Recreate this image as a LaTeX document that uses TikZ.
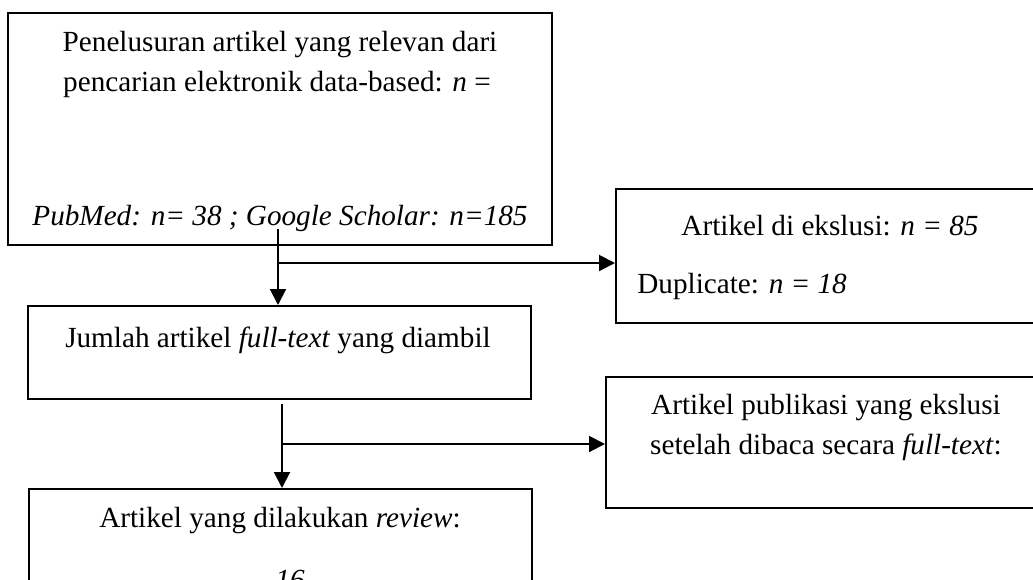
\documentclass[tikz,border=0pt]{standalone}
\usepackage{fontspec}
\setmainfont{Liberation Serif}
\usetikzlibrary{arrows.meta,fit}

\tikzset{
  box/.style={draw, line width=1pt, inner sep=0pt},
  txt/.style={anchor=base, inner sep=0pt, font=\fontsize{14.6}{20.5}\selectfont},
  flow/.style={line width=1pt, -{Triangle[length=8pt,width=8pt]}}
}

\begin{document}
\begin{tikzpicture}[x=0.5pt,y=-0.5pt]
\useasboundingbox (0,0) rectangle (1033,579);

\node[box, fit={(8,13) (552,245)}] (search) {};
\node[box, fit={(616,189) (1044,323)}] (excl) {};
\node[box, fit={(28,306) (531,399)}] (fulltext) {};
\node[box, fit={(606,377) (1044,508)}] (exclft) {};
\node[box, fit={(29,489) (532,620)}] (review) {};

\node[txt] at (280,51) {Penelusuran artikel yang relevan dari};
\node[txt] at (277,91) {pencarian elektronik data-based: \textit{n} =};
\node[txt] at (280,225) {\textit{PubMed: n= 38 ; Google Scholar: n=185}};
\node[txt] at (830,235) {Artikel di ekslusi: \textit{n = 85}};
\node[txt, anchor=base west] at (637,293) {Duplicate: \textit{n = 18}};
\node[txt] at (278,347) {Jumlah artikel \textit{full-text} yang diambil};
\node[txt] at (826,414) {Artikel publikasi yang ekslusi};
\node[txt] at (826,454) {setelah dibaca secara \textit{full-text}:};
\node[txt] at (280,527) {Artikel yang dilakukan \textit{review}:};
\node[txt] at (290,589) {\textit{16}};

\coordinate (from1) at (278,229);
\coordinate (split1) at (278,263);
\draw[flow] (from1) -- (from1 |- fulltext.north);
\draw[flow] (split1) -- (split1 -| excl.west);

\coordinate (from2) at (282,404);
\coordinate (split2) at (282,444);
\draw[flow] (from2) -- (from2 |- review.north);
\draw[flow] (split2) -- (split2 -| exclft.west);
\end{tikzpicture}
\end{document}
